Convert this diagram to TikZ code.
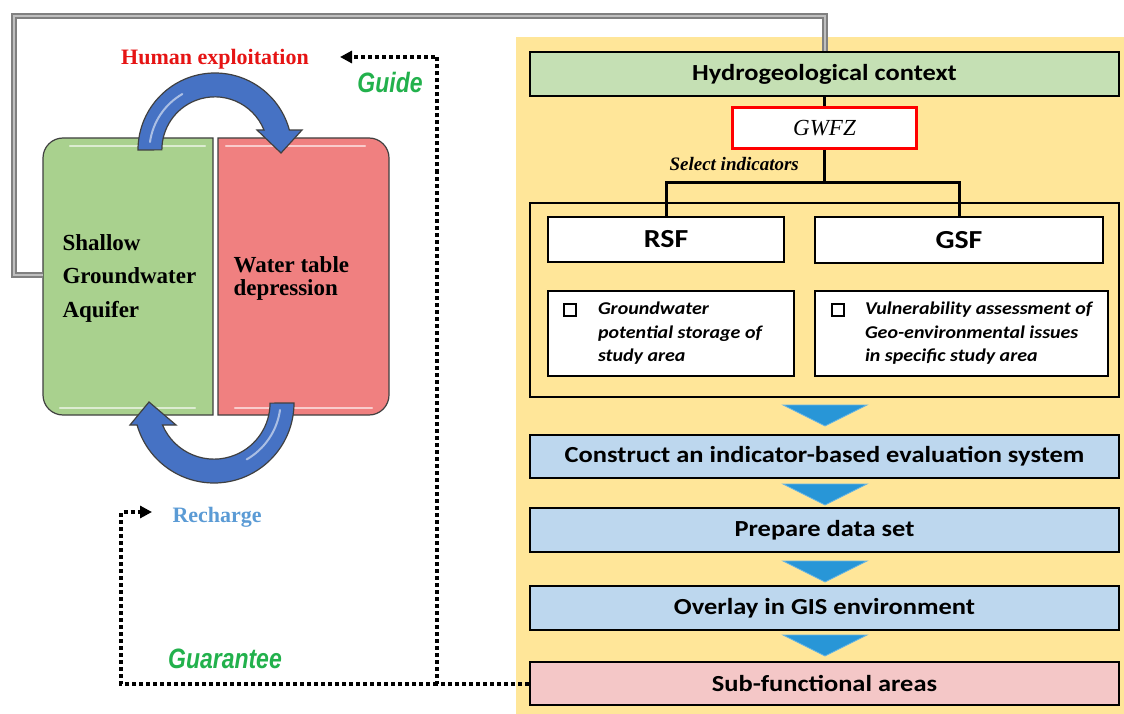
\documentclass[tikz,border=0pt]{standalone}
\usepackage{fontspec}
\usepackage{graphicx}
\setmainfont{Liberation Serif}
\newfontfamily\calfont{Carlito}
\newfontfamily\arialfont{Liberation Sans}
\usetikzlibrary{arrows.meta}
\definecolor{panel}{RGB}{255,230,153}
\definecolor{hcgreen}{RGB}{197,224,180}
\definecolor{stepblue}{RGB}{189,215,238}
\definecolor{subpink}{RGB}{244,199,199}
\definecolor{aqgreen}{RGB}{169,209,142}
\definecolor{deppink}{RGB}{240,128,128}
\definecolor{arrowblue}{RGB}{70,114,196}
\definecolor{triblue}{RGB}{40,150,215}
\definecolor{exred}{RGB}{230,20,20}
\definecolor{rechblue}{RGB}{91,155,213}
\definecolor{guidegreen}{RGB}{34,177,76}
\definecolor{linegray}{RGB}{128,128,128}
\newcommand\wx[1]{\scalebox{1.15}[1]{#1}}
\begin{document}
\begin{tikzpicture}[x=1pt,y=-1pt,
  stepbox/.style={draw=black, line width=2pt, inner sep=0pt, font=\calfont\bfseries\fontsize{23pt}{27pt}\selectfont},
  descbox/.style={draw=black, line width=2pt, fill=white, inner sep=0pt, font=\calfont\bfseries\itshape\fontsize{18pt}{23.5pt}\selectfont},
  tri/.style={fill=triblue, draw=triblue!70!white, line width=0.8pt},
  bluearrow/.style={fill=arrowblue, draw=black!75, line width=1.2pt},
  gloss/.style={white, opacity=0.6, line width=2.2pt, line cap=round},
  dotline/.style={black, line width=4pt, dash pattern=on 4pt off 3pt, -{Triangle[length=12pt,width=12pt]}},
  grayline/.style={draw=linegray, line width=2pt, double=linegray!50, double distance=2pt},
  treeline/.style={black, line width=3pt},
  greenlabel/.style={text=guidegreen, font=\arialfont\bfseries\itshape\fontsize{28pt}{30pt}\selectfont}
]
\useasboundingbox (0,0) rectangle (1124,714);
\fill[white] (0,0) rectangle (1124,714);

% right panel
\fill[panel] (516,37) rectangle (1124,714);

% left boxes
\draw[fill=aqgreen, draw=black!75, line width=1.2pt] (213,138) -- (63,138) arc[start angle=270,end angle=180,radius=20] -- (43,395) arc[start angle=180,end angle=90,radius=20] -- (213,415) -- cycle;
\draw[fill=deppink, draw=black!75, line width=1.2pt] (218,138) -- (369,138) arc[start angle=270,end angle=360,radius=20] -- (389,395) arc[start angle=0,end angle=90,radius=20] -- (218,415) -- cycle;
\draw[gloss] (70,146) -- (205,146);
\draw[gloss] (60,408) -- (195,408);
\draw[gloss] (226,146) -- (365,146);
\draw[gloss] (235,408) -- (372,408);
\coordinate (gw) at (43,275);

\node[align=left, anchor=base west, font=\bfseries\fontsize{23pt}{33.5pt}\selectfont] (aq) at (59,317) {Shallow\\Groundwater\\Aquifer};
\node[align=left, anchor=base west, font=\bfseries\fontsize{23pt}{23pt}\selectfont] (wt) at (230,295) {Water table\\depression};

% curved blue arrows
\draw[bluearrow] (138,150) arc[start angle=180,end angle=345,radius=77] -- (302,130) -- (281,153) -- (257,130) -- (264,130) arc[start angle=338,end angle=180,radius=53] -- cycle;
\draw[white, opacity=0.55, line width=2pt, line cap=round] (150,142) arc[start angle=188,end angle=240,radius=66];
\draw[bluearrow] (294,403) arc[start angle=0,end angle=164,radius=80] -- (130,425) -- (149,402) -- (176,425) -- (162.5,425) arc[start angle=157,end angle=0,radius=56] -- cycle;
\draw[white, opacity=0.55, line width=2pt, line cap=round] (280,410) arc[start angle=8,end angle=60,radius=68];

% labels left
\node[anchor=base, text=exred, font=\bfseries\fontsize{22pt}{26pt}\selectfont] (hum) at (215,65) {Human exploitation};
\node[anchor=base west, text=rechblue, font=\bfseries\fontsize{22pt}{26pt}\selectfont] (rech) at (169,522) {Recharge};
\node[greenlabel, anchor=base] (guide) at (390,93) {\scalebox{0.82}[1]{Guide}};
\node[greenlabel, anchor=base] (guar) at (225,668) {\scalebox{0.82}[1]{Guarantee}};

% right flow
\node[stepbox, fill=hcgreen, minimum width=589pt, minimum height=44pt] (hc) at (824.5,74) {\wx{Hydrogeological context}};
\node[draw=red, line width=3pt, fill=white, minimum width=184pt, minimum height=41pt, inner sep=0pt, font=\itshape\fontsize{23pt}{27pt}\selectfont] (gwfz) at (824.5,128) {GWFZ};
\node[anchor=base west, font=\bfseries\itshape\fontsize{19pt}{22pt}\selectfont] (sel) at (666,171) {Select indicators};
\node[draw=black, line width=2.5pt, minimum width=589pt, minimum height=194pt, inner sep=0pt] (frame) at (824.5,300) {};
\node[stepbox, fill=white, minimum width=236pt, minimum height=44pt, font=\calfont\bfseries\fontsize{26pt}{30pt}\selectfont] (rsf) at (666,239.5) {\wx{RSF}};
\node[stepbox, fill=white, minimum width=288pt, minimum height=45pt, font=\calfont\bfseries\fontsize{26pt}{30pt}\selectfont] (gsf) at (959,240) {\wx{GSF}};
\node[descbox, minimum width=246pt, minimum height=85pt] (rsfd) at (671,333.5) {\makebox[246pt][l]{\hspace{50pt}\scalebox{1.11}[1]{\begin{tabular}{@{}l@{}}Groundwater\\potential storage of\\study area\end{tabular}}}};
\node[descbox, minimum width=293pt, minimum height=85pt] (gsfd) at (961.5,333.5) {\makebox[293pt][l]{\hspace{50pt}\scalebox{1.11}[1]{\begin{tabular}{@{}l@{}}Vulnerability assessment of\\Geo-environmental issues\\in specific study area\end{tabular}}}};
\draw[line width=2.2pt] (564,304) rectangle (576,316);
\draw[line width=2.2pt] (832,304) rectangle (844,316);

\coordinate (jn) at (824.5,183);
\draw[treeline] (hc.south) -- (gwfz.north);
\draw[treeline] (gwfz.south) -- (jn);
\draw[treeline] (rsf.north) |- (jn) -| (gsf.north);

\node[stepbox, fill=stepblue, minimum width=589pt, minimum height=43pt] (con) at (824.5,456.5) {\wx{Construct an indicator-based evaluation system}};
\node[stepbox, fill=stepblue, minimum width=589pt, minimum height=44pt] (prep) at (824.5,530) {\wx{Prepare data set}};
\node[stepbox, fill=stepblue, minimum width=589pt, minimum height=44pt] (over) at (824.5,608) {\wx{Overlay in GIS environment}};
\node[stepbox, fill=subpink, minimum width=589pt, minimum height=43pt] (sub) at (824.5,683.5) {\wx{Sub-functional areas}};

\draw[tri] (783,405) -- (867,405) -- (825,426) -- cycle;
\draw[tri] (783,484) -- (867,484) -- (825,505) -- cycle;
\draw[tri] (783,561) -- (867,561) -- (825,582) -- cycle;
\draw[tri] (783,635) -- (867,635) -- (825,656) -- cycle;

% gray feedback line
\coordinate (gtl) at (13.5,16);
\draw[grayline] (gw) -- (13.5,275) -- (gtl) -| (hc.north);

% dotted connectors
\coordinate (d1) at (437,683.5);
\coordinate (d2) at (121,683.5);
\coordinate (g1) at (340,57);
\coordinate (r1) at (152,512);
\draw[dotline] (sub.west) -- (d1) |- (g1);
\draw[dotline] (d1) -- (d2) |- (r1);
\end{tikzpicture}
\end{document}
